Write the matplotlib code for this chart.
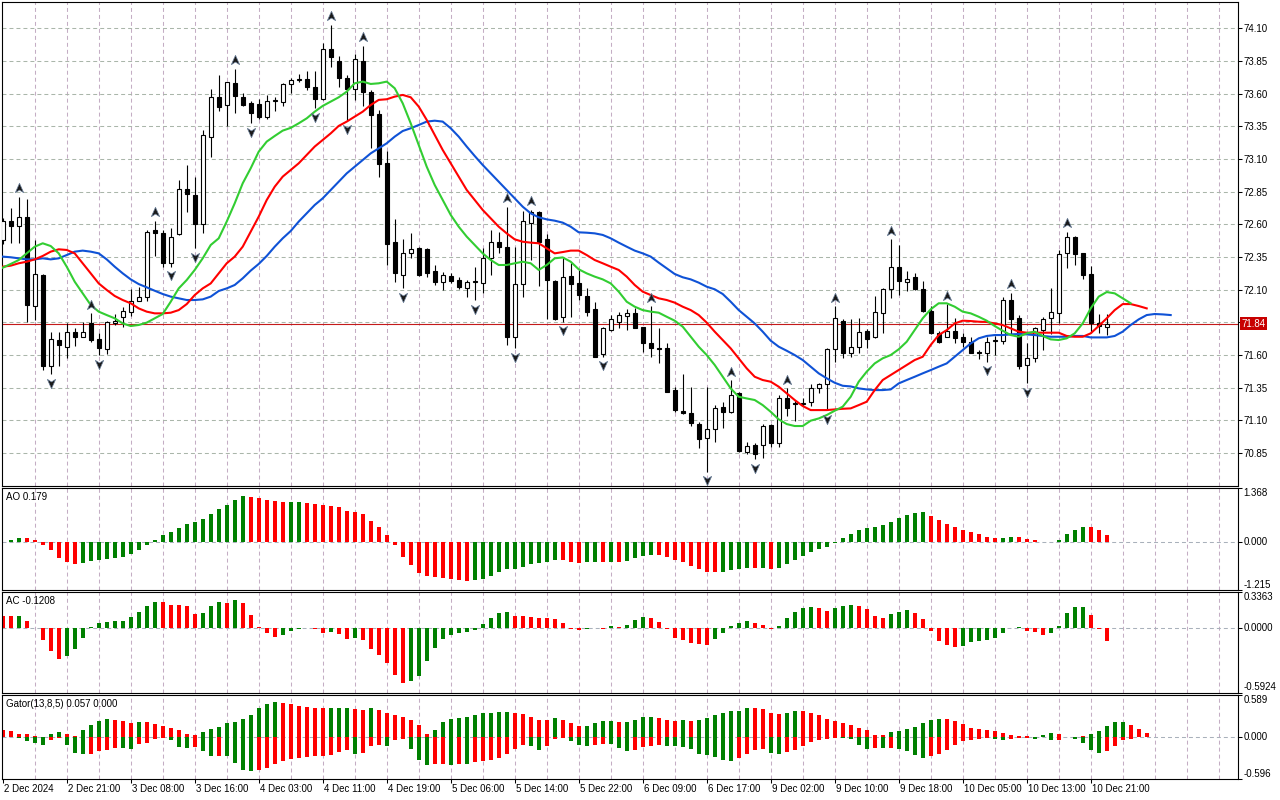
import matplotlib
matplotlib.use("Agg")
import matplotlib.pyplot as plt
import matplotlib.transforms as mtransforms
from matplotlib.path import Path
import numpy as np

plt.rcParams['font.family'] = ['Liberation Sans', 'DejaVu Sans']

# ---- hourly candles ----
opens = [
    72.480, 72.625, 72.590, 72.654, 71.975, 72.210, 71.516, 71.715, 71.659, 71.779,
    71.740, 71.842, 71.720, 71.643, 71.842, 71.888, 71.932, 72.016, 72.041, 72.557,
    72.531, 72.307, 72.524, 72.868, 72.824, 72.600, 73.271, 73.577, 73.511, 73.679,
    73.577, 73.526, 73.518, 73.419, 73.544, 73.539, 73.674, 73.708, 73.710, 73.648,
    73.557, 73.939, 73.850, 73.717, 73.633, 73.850, 73.615, 73.444, 73.067, 72.462,
    72.212, 72.378, 72.421, 72.409, 72.243, 72.161, 72.205, 72.174, 72.110, 72.158,
    72.149, 72.340, 72.462, 72.424, 71.740, 72.141, 72.608, 72.697, 72.485, 72.166,
    71.888, 72.205, 72.149, 72.052, 71.950, 71.605, 71.791, 71.855, 71.901, 71.919,
    71.812, 71.689, 71.652, 71.651, 71.332, 71.171, 71.154, 71.072, 70.962, 71.031,
    71.200, 71.166, 71.312, 70.860, 70.911, 70.911, 71.064, 70.929, 71.268, 71.235,
    71.228, 71.243, 71.345, 71.378, 71.643, 71.863, 71.613, 71.659, 71.786, 71.735,
    71.919, 72.103, 72.276, 72.161, 72.194, 72.103, 71.939, 71.771, 71.740, 71.786,
    71.735, 71.702, 71.622, 71.613, 71.707, 71.710, 72.021, 71.881, 71.523, 71.574,
    71.791, 71.881, 71.919, 72.378, 72.506, 72.378, 72.220, 71.848, 71.817]
highs = [
    72.650, 72.722, 72.812, 72.791, 72.480, 72.220, 71.773, 71.773, 71.842, 71.804,
    71.855, 71.919, 71.766, 71.860, 71.911, 71.970, 72.103, 72.123, 72.557, 72.626,
    72.557, 72.572, 72.939, 73.054, 72.965, 73.322, 73.633, 73.743, 73.692, 73.789,
    73.603, 73.546, 73.557, 73.590, 73.577, 73.684, 73.717, 73.751, 73.773, 73.773,
    73.985, 74.126, 73.888, 73.743, 73.904, 73.965, 73.628, 73.475, 73.161, 72.641,
    72.485, 72.536, 72.429, 72.416, 72.289, 72.238, 72.230, 72.194, 72.174, 72.276,
    72.416, 72.557, 72.544, 72.735, 72.429, 72.705, 72.710, 72.705, 72.524, 72.174,
    72.340, 72.302, 72.251, 72.110, 72.008, 71.817, 71.906, 71.932, 71.950, 71.957,
    71.817, 71.975, 71.804, 71.689, 71.358, 71.455, 71.353, 71.090, 71.358, 71.217,
    71.243, 71.409, 71.319, 70.937, 70.924, 71.072, 71.072, 71.294, 71.345, 71.256,
    71.268, 71.378, 71.388, 71.651, 71.975, 71.873, 71.873, 71.881, 71.796, 72.052,
    72.110, 72.485, 72.442, 72.245, 72.230, 72.169, 71.975, 71.786, 71.990, 71.881,
    71.771, 71.740, 71.638, 71.740, 71.746, 72.047, 72.077, 71.906, 71.689, 71.817,
    71.894, 72.110, 72.404, 72.544, 72.511, 72.383, 72.281, 71.914, 71.914]
lows = [
    72.450, 72.455, 72.455, 71.855, 71.868, 71.485, 71.455, 71.518, 71.580, 71.669,
    71.735, 71.702, 71.600, 71.608, 71.830, 71.817, 71.899, 72.013, 72.016, 72.358,
    72.276, 72.276, 72.518, 72.697, 72.416, 72.531, 73.118, 73.470, 73.353, 73.455,
    73.506, 73.373, 73.406, 73.404, 73.470, 73.506, 73.608, 73.692, 73.628, 73.488,
    73.552, 73.807, 73.648, 73.398, 73.552, 73.506, 73.187, 72.965, 72.289, 72.161,
    72.110, 72.340, 72.205, 72.200, 72.136, 72.097, 72.149, 72.103, 72.047, 72.021,
    72.072, 72.212, 72.378, 71.677, 71.651, 72.047, 72.327, 72.128, 71.873, 71.868,
    71.855, 71.888, 72.021, 71.899, 71.582, 71.587, 71.786, 71.804, 71.791, 71.804,
    71.626, 71.587, 71.541, 71.314, 71.166, 71.148, 71.057, 70.886, 70.707, 70.937,
    71.039, 71.154, 70.860, 70.842, 70.802, 70.809, 70.898, 70.898, 71.133, 71.097,
    71.210, 71.210, 71.307, 71.179, 71.549, 71.575, 71.582, 71.618, 71.651, 71.728,
    71.771, 72.034, 72.059, 72.092, 72.097, 71.932, 71.761, 71.694, 71.735, 71.689,
    71.664, 71.613, 71.567, 71.549, 71.600, 71.684, 71.753, 71.490, 71.383, 71.549,
    71.638, 71.761, 71.848, 72.263, 72.289, 72.179, 71.771, 71.771, 71.753]
closes = [
    72.626, 72.590, 72.659, 71.983, 72.217, 71.518, 71.720, 71.674, 71.779, 71.735,
    71.779, 71.715, 71.651, 71.855, 71.858, 71.937, 72.016, 72.041, 72.539, 72.531,
    72.307, 72.506, 72.868, 72.832, 72.603, 73.284, 73.577, 73.501, 73.687, 73.585,
    73.513, 73.449, 73.419, 73.544, 73.546, 73.671, 73.705, 73.712, 73.648, 73.557,
    73.939, 73.878, 73.717, 73.633, 73.863, 73.615, 73.437, 73.062, 72.450, 72.230,
    72.378, 72.409, 72.212, 72.230, 72.161, 72.210, 72.169, 72.118, 72.161, 72.163,
    72.340, 72.462, 72.429, 71.740, 72.141, 72.626, 72.692, 72.467, 72.174, 71.873,
    72.194, 72.143, 72.059, 71.932, 71.587, 71.804, 71.873, 71.906, 71.919, 71.809,
    71.689, 71.651, 71.648, 71.319, 71.179, 71.154, 71.077, 70.955, 71.031, 71.192,
    71.166, 71.294, 70.868, 70.904, 70.840, 71.057, 70.924, 71.268, 71.192, 71.225,
    71.232, 71.345, 71.378, 71.643, 71.881, 71.618, 71.659, 71.779, 71.720, 71.932,
    72.103, 72.271, 72.169, 72.179, 72.103, 71.939, 71.771, 71.702, 71.786, 71.728,
    71.702, 71.618, 71.617, 71.702, 71.712, 72.021, 71.873, 71.516, 71.574, 71.804,
    71.873, 71.932, 72.373, 72.506, 72.373, 72.212, 71.848, 71.822, 71.840]

# ---- Alligator lines (jaw shifted 8 bars, teeth 5, lips 3) ----
jaw = [
    72.353, 72.348, 72.340, 72.332, 72.332, 72.340, 72.332, 72.340, 72.365, 72.391,
    72.399, 72.391, 72.378, 72.332, 72.276, 72.225, 72.179, 72.143, 72.118, 72.092,
    72.067, 72.047, 72.034, 72.021, 72.021, 72.026, 72.047, 72.090, 72.110, 72.136,
    72.187, 72.246, 72.297, 72.358, 72.429, 72.493, 72.549, 72.621, 72.684, 72.748,
    72.799, 72.863, 72.927, 72.990, 73.041, 73.092, 73.143, 73.182, 73.220, 73.271,
    73.314, 73.335, 73.360, 73.386, 73.393, 73.386, 73.335, 73.271, 73.195, 73.123,
    73.054, 72.990, 72.927, 72.863, 72.799, 72.735, 72.684, 72.654, 72.638, 72.628,
    72.613, 72.582, 72.539, 72.536, 72.531, 72.519, 72.493, 72.460, 72.429, 72.399,
    72.378, 72.353, 72.307, 72.263, 72.220, 72.195, 72.179, 72.154, 72.123, 72.103,
    72.067, 72.008, 71.944, 71.893, 71.842, 71.779, 71.710, 71.664, 71.633, 71.600,
    71.562, 71.511, 71.460, 71.422, 71.388, 71.365, 71.360, 71.345, 71.337, 71.332,
    71.332, 71.337, 71.383, 71.409, 71.434, 71.460, 71.485, 71.511, 71.536, 71.587,
    71.638, 71.689, 71.728, 71.746, 71.753, 71.753, 71.758, 71.761, 71.758, 71.753,
    71.746, 71.740, 71.740, 71.740, 71.746, 71.746, 71.735, 71.735, 71.735, 71.746,
    71.779, 71.830, 71.873, 71.906, 71.914, 71.911, 71.906]
teeth = [
    72.276, 72.284, 72.302, 72.314, 72.332, 72.358, 72.391, 72.409, 72.404, 72.378,
    72.302, 72.225, 72.148, 72.098, 72.052, 72.021, 71.996, 71.957, 71.932, 71.919,
    71.919, 71.924, 71.944, 71.990, 72.059, 72.110, 72.148, 72.225, 72.302, 72.353,
    72.429, 72.544, 72.659, 72.786, 72.888, 72.965, 73.016, 73.067, 73.131, 73.195,
    73.246, 73.296, 73.353, 73.386, 73.424, 73.462, 73.513, 73.552, 73.557, 73.577,
    73.590, 73.572, 73.501, 73.399, 73.284, 73.169, 73.067, 72.965, 72.863, 72.786,
    72.710, 72.646, 72.582, 72.531, 72.485, 72.467, 72.460, 72.455, 72.416, 72.378,
    72.388, 72.399, 72.399, 72.365, 72.327, 72.302, 72.276, 72.251, 72.200, 72.136,
    72.085, 72.059, 72.034, 72.021, 72.001, 71.970, 71.944, 71.906, 71.848, 71.779,
    71.715, 71.651, 71.575, 71.498, 71.434, 71.409, 71.396, 71.358, 71.307, 71.256,
    71.210, 71.179, 71.179, 71.179, 71.184, 71.189, 71.192, 71.217, 71.243, 71.332,
    71.409, 71.447, 71.485, 71.524, 71.562, 71.587, 71.677, 71.753, 71.791, 71.842,
    71.863, 71.860, 71.855, 71.853, 71.842, 71.830, 71.804, 71.779, 71.771, 71.771,
    71.771, 71.771, 71.771, 71.746, 71.740, 71.740, 71.766, 71.822, 71.881, 71.944,
    71.990, 71.990, 71.975, 71.957]
lips = [
    72.268, 72.297, 72.327, 72.378, 72.429, 72.455, 72.434, 72.378, 72.276, 72.161,
    72.072, 71.983, 71.932, 71.906, 71.881, 71.842, 71.822, 71.830, 71.848, 71.881,
    71.914, 72.008, 72.110, 72.174, 72.251, 72.340, 72.442, 72.493, 72.621, 72.761,
    72.914, 73.029, 73.156, 73.233, 73.276, 73.317, 73.338, 73.373, 73.411, 73.462,
    73.506, 73.539, 73.572, 73.615, 73.679, 73.692, 73.674, 73.679, 73.692, 73.641,
    73.526, 73.373, 73.207, 73.041, 72.901, 72.786, 72.672, 72.582, 72.506, 72.442,
    72.378, 72.327, 72.289, 72.289, 72.302, 72.314, 72.302, 72.251, 72.289, 72.340,
    72.347, 72.314, 72.256, 72.225, 72.200, 72.179, 72.148, 72.085, 72.008, 71.970,
    71.944, 71.932, 71.924, 71.893, 71.863, 71.817, 71.740, 71.664, 71.600, 71.524,
    71.434, 71.345, 71.281, 71.268, 71.256, 71.217, 71.166, 71.108, 71.072, 71.057,
    71.057, 71.098, 71.115, 71.141, 71.174, 71.205, 71.281, 71.396, 71.473, 71.536,
    71.575, 71.600, 71.644, 71.702, 71.791, 71.881, 71.950, 71.996, 71.996, 71.970,
    71.932, 71.919, 71.893, 71.863, 71.822, 71.786, 71.753, 71.740, 71.766, 71.779,
    71.746, 71.720, 71.715, 71.728, 71.766, 71.842, 71.957, 72.047, 72.082, 72.072,
    72.034, 71.996]

fractal_up = [2, 11, 19, 29, 41, 45, 63, 66, 81, 91, 98, 104, 111, 118, 126, 133]
fractal_down = [6, 12, 21, 24, 31, 39, 43, 50, 59, 64, 70, 75, 88, 94, 103, 123, 128]

# ---- oscillators ----
ao = [
    np.nan, 0.047, 0.089, 0.085, 0.047, -0.072, -0.217, -0.404, -0.515, -0.557,
    -0.532, -0.498, -0.464, -0.447, -0.404, -0.379, -0.302, -0.200, -0.072, 0.047,
    0.174, 0.251, 0.353, 0.464, 0.506, 0.574, 0.719, 0.838, 0.940, 1.068,
    1.162, 1.145, 1.102, 1.060, 1.026, 1.000, 1.003, 1.006, 0.983, 0.966,
    0.940, 0.915, 0.889, 0.787, 0.762, 0.702, 0.540, 0.379, 0.174, -0.094,
    -0.400, -0.604, -0.783, -0.860, -0.885, -0.911, -0.953, -0.962, -0.987, -0.979,
    -0.936, -0.860, -0.757, -0.706, -0.681, -0.630, -0.557, -0.532, -0.515, -0.455,
    -0.464, -0.506, -0.532, -0.515, -0.510, -0.520, -0.515, -0.520, -0.481, -0.404,
    -0.362, -0.336, -0.340, -0.387, -0.464, -0.515, -0.617, -0.685, -0.770, -0.775,
    -0.762, -0.728, -0.685, -0.660, -0.668, -0.660, -0.694, -0.660, -0.566, -0.455,
    -0.362, -0.251, -0.183, -0.132, -0.038, 0.098, 0.191, 0.302, 0.345, 0.379,
    0.430, 0.515, 0.617, 0.685, 0.736, 0.745, 0.660, 0.566, 0.455, 0.379,
    0.302, 0.251, 0.200, 0.123, 0.098, 0.106, 0.123, 0.119, 0.072, 0.047,
    0.004, -0.013, 0.047, 0.200, 0.311, 0.379, 0.370, 0.311, 0.179]
ac = [
    0.118, 0.115, 0.118, 0.068, 0.003, -0.108, -0.207, -0.282, -0.254, -0.192,
    -0.087, 0.009, 0.050, 0.062, 0.068, 0.071, 0.105, 0.155, 0.207, 0.245,
    0.243, 0.220, 0.217, 0.211, 0.136, 0.142, 0.207, 0.245, 0.235, 0.263,
    0.238, 0.124, 0.009, -0.040, -0.077, -0.059, -0.022, -0.003, 0.004, -0.009,
    -0.040, -0.031, -0.050, -0.096, -0.087, -0.105, -0.189, -0.245, -0.319, -0.433,
    -0.505, -0.486, -0.440, -0.300, -0.180, -0.096, -0.059, -0.040, -0.031, -0.012,
    0.040, 0.096, 0.142, 0.152, 0.115, 0.113, 0.105, 0.096, 0.095, 0.087,
    0.053, -0.006, -0.015, -0.009, 0.002, -0.002, 0.022, 0.012, 0.034, 0.077,
    0.105, 0.096, 0.062, -0.003, -0.090, -0.108, -0.133, -0.142, -0.155, -0.099,
    -0.040, 0.022, 0.053, 0.068, 0.053, 0.031, -0.006, 0.022, 0.096, 0.152,
    0.186, 0.198, 0.189, 0.161, 0.189, 0.207, 0.217, 0.207, 0.180, 0.115,
    0.096, 0.133, 0.152, 0.170, 0.142, 0.087, -0.022, -0.118, -0.155, -0.173,
    -0.164, -0.124, -0.115, -0.105, -0.090, -0.040, 0.006, 0.009, -0.025, -0.034,
    -0.059, -0.040, 0.022, 0.142, 0.198, 0.199, 0.124, -0.003, -0.121]
gator_up = [
    0.103, 0.089, 0.050, 0.040, 0.015, 0.005, 0.047, 0.075, 0.047, 0.019,
    0.103, 0.174, 0.230, 0.249, 0.245, 0.221, 0.202, 0.212, 0.208, 0.188,
    0.160, 0.132, 0.099, 0.042, 0.033, 0.075, 0.108, 0.146, 0.202, 0.216,
    0.249, 0.315, 0.414, 0.466, 0.499, 0.480, 0.466, 0.437, 0.423, 0.414,
    0.413, 0.414, 0.415, 0.416, 0.390, 0.388, 0.405, 0.386, 0.343, 0.315,
    0.287, 0.245, 0.174, 0.047, 0.103, 0.216, 0.259, 0.273, 0.287, 0.315,
    0.343, 0.345, 0.357, 0.358, 0.343, 0.329, 0.287, 0.245, 0.244, 0.273,
    0.245, 0.202, 0.160, 0.161, 0.202, 0.230, 0.231, 0.216, 0.217, 0.245,
    0.287, 0.288, 0.273, 0.245, 0.230, 0.245, 0.230, 0.245, 0.273, 0.315,
    0.343, 0.372, 0.373, 0.414, 0.413, 0.400, 0.343, 0.329, 0.343, 0.372,
    0.371, 0.343, 0.315, 0.259, 0.230, 0.202, 0.174, 0.132, 0.103, 0.033,
    0.032, 0.075, 0.089, 0.118, 0.146, 0.202, 0.245, 0.259, 0.258, 0.230,
    0.188, 0.132, 0.118, 0.103, 0.089, 0.061, 0.033, 0.019, 0.014, 0.003,
    0.033, 0.061, 0.047, 0.005, 0.004, 0.014, 0.042, 0.085, 0.155, 0.210,
    0.212, 0.165, 0.108, 0.057]
gator_down = [
    -0.004, -0.004, -0.019, -0.061, -0.080, -0.108, -0.047, -0.019, -0.118, -0.221,
    -0.245, -0.235, -0.202, -0.179, -0.150, -0.160, -0.165, -0.103, -0.080, -0.033,
    -0.010, -0.042, -0.136, -0.155, -0.146, -0.198, -0.273, -0.263, -0.268, -0.372,
    -0.466, -0.485, -0.470, -0.433, -0.386, -0.343, -0.310, -0.292, -0.278, -0.273,
    -0.263, -0.249, -0.216, -0.188, -0.245, -0.231, -0.132, -0.118, -0.132, -0.047,
    -0.033, -0.174, -0.329, -0.400, -0.386, -0.384, -0.388, -0.385, -0.387, -0.357,
    -0.343, -0.329, -0.301, -0.245, -0.174, -0.118, -0.132, -0.188, -0.132, -0.033,
    -0.014, -0.061, -0.118, -0.132, -0.118, -0.103, -0.104, -0.160, -0.202, -0.188,
    -0.146, -0.132, -0.118, -0.132, -0.133, -0.134, -0.174, -0.245, -0.259, -0.287,
    -0.329, -0.335, -0.301, -0.245, -0.188, -0.174, -0.230, -0.245, -0.216, -0.188,
    -0.132, -0.075, -0.047, -0.033, -0.009, -0.010, -0.033, -0.118, -0.174, -0.160,
    -0.161, -0.160, -0.174, -0.202, -0.259, -0.301, -0.273, -0.245, -0.188, -0.118,
    -0.061, -0.047, -0.033, -0.010, -0.033, -0.047, -0.033, -0.010, -0.008, -0.023,
    -0.002, -0.047, -0.045, -0.005, -0.023, -0.085, -0.180, -0.220, -0.190, -0.122,
    -0.042, -0.024, 0.0, 0.0]
gator_up_colors = ("rrrrrrggrr" "ggggrrrgrr" "rrrrrggggg" "gggggrrrrr" "rgggrrgrrr"
                   "rrrrgggggg" "ggggrrrrrg" "rrrggggrgg" "ggrrrgrggg" "ggggrrrrgg"
                   "rrrrrrrrrr" "rgggggggrr" "rrrrrrrrrr" "ggrrrrgggg" "grrr")
gator_down_colors = ("rrggggrrgg" "grrrrggrrr" "rgggrggrgg" "ggrrrrrrrr" "rrrrgrrrgr"
                     "rgggrrgrgr" "rrrrrrggrr" "rgggrrgggr" "rrrggggggg" "ggrrrrggrr"
                     "rrrrrggggr" "grggggrrrr" "rrrrggrrrg" "rgrrggggrr" "rrrr")

price_ticks = [74.10, 73.85, 73.60, 73.35, 73.10, 72.85, 72.60, 72.35, 72.10,
               71.85, 71.60, 71.35, 71.10, 70.85]
last_price = 71.84
time_labels = ["2 Dec 2024", "2 Dec 21:00", "3 Dec 08:00", "3 Dec 16:00", "4 Dec 03:00",
               "4 Dec 11:00", "4 Dec 19:00", "5 Dec 06:00", "5 Dec 14:00", "5 Dec 22:00",
               "6 Dec 09:00", "6 Dec 17:00", "9 Dec 02:00", "9 Dec 10:00", "9 Dec 18:00",
               "10 Dec 05:00", "10 Dec 13:00", "10 Dec 21:00"]

GREEN = '#008000'
RED = '#ff0000'
FS = 7
W, H = 1280, 800


def box(l, t, r, b):
    return [l / W, 1 - b / H, (r - l) / W, (b - t) / H]


def trend_colors(values, first):
    out = []
    prev = None
    for v in values:
        if prev is None or np.isnan(prev):
            out.append(first)
        else:
            out.append(GREEN if v > prev else RED)
        prev = v
    return out


fig = plt.figure(figsize=(12.8, 8), dpi=100)
fig.patch.set_facecolor('white')

ax = fig.add_axes(box(2, 2, 1237.5, 485.5))
ax_ao = fig.add_axes(box(2, 488, 1237.5, 589.5))
ax_ac = fig.add_axes(box(2, 592, 1237.5, 692.5))
ax_gt = fig.add_axes(box(2, 695.3, 1237.5, 779.3))
axes = [ax, ax_ao, ax_ac, ax_gt]

vgrid = dict(color='#c4adc4', lw=0.75, linestyle=(0, (3.8, 2.9)), zorder=0)
hgrid = dict(color='#aab6aa', lw=0.75, linestyle=(0, (3.8, 2.9)), zorder=0)

for a in axes:
    a.set_xlim(-0.09, 154.35)
    for s in a.spines.values():
        s.set_linewidth(0.8)
        s.set_color('black')
    for k in range(4, 155, 4):
        a.axvline(k, **vgrid)
    a.tick_params(axis='x', which='both', bottom=False, labelbottom=False)
    a.yaxis.tick_right()
    a.tick_params(axis='y', length=3, width=0.75, pad=1.5, labelsize=FS, colors='black')

# ---- main price panel ----
ax.set_ylim(70.602, 74.301)
for p in price_ticks:
    ax.axhline(p, **hgrid)
ax.set_yticks(price_ticks)
ax.set_yticklabels(['' if abs(p - 71.85) < 1e-6 else '%.2f' % p for p in price_ticks])

x = np.arange(len(opens))
o = np.array(opens)
c = np.array(closes)
ax.vlines(x, lows, highs, color='black', lw=0.8, zorder=3)
bottoms = np.minimum(o, c)
heights = np.maximum(np.abs(c - o), 0.006)
faces = ['white' if cc >= oo else 'black' for oo, cc in zip(o, c)]
ax.bar(x, heights, bottom=bottoms, width=0.5, color=faces, edgecolor='black',
       linewidth=0.8, zorder=4)

ax.axhline(last_price, color='#c41a1a', lw=0.8, zorder=2.5)

ax.plot(np.arange(len(jaw)), jaw, color='#0f52d6', lw=1.5, zorder=5)
ax.plot(np.arange(len(teeth)), teeth, color='#ff0000', lw=1.5, zorder=5)
ax.plot(np.arange(len(lips)), lips, color='#32cd32', lw=1.5, zorder=5)

up_marker = Path([(0, 1), (0.8, -0.8), (0, -0.3), (-0.8, -0.8), (0, 1)],
                 [Path.MOVETO, Path.LINETO, Path.LINETO, Path.LINETO, Path.CLOSEPOLY])
down_marker = Path([(0, -1), (0.8, 0.8), (0, 0.3), (-0.8, 0.8), (0, -1)],
                   [Path.MOVETO, Path.LINETO, Path.LINETO, Path.LINETO, Path.CLOSEPOLY])
tr_up = mtransforms.offset_copy(ax.transData, fig=fig, x=0, y=8.5, units='dots')
tr_dn = mtransforms.offset_copy(ax.transData, fig=fig, x=0, y=-8.5, units='dots')
ax.plot(fractal_up, [highs[k] for k in fractal_up], linestyle='none', marker=up_marker,
        markersize=7.5, markerfacecolor='#1a1a1a', markeredgecolor='#6a7f9a',
        markeredgewidth=0.5, transform=tr_up, zorder=6)
ax.plot(fractal_down, [lows[k] for k in fractal_down], linestyle='none', marker=down_marker,
        markersize=7.5, markerfacecolor='#1a1a1a', markeredgecolor='#6a7f9a',
        markeredgewidth=0.5, transform=tr_dn, zorder=6)

price_tr = mtransforms.offset_copy(
    mtransforms.blended_transform_factory(ax.transAxes, ax.transData),
    fig=fig, x=4, y=0, units='dots')
ax.text(1.0, last_price, '%.2f' % last_price, transform=price_tr, ha='left', va='center',
        color='white', fontsize=FS, clip_on=False,
        bbox=dict(boxstyle='square,pad=0.15', facecolor='#c80000', edgecolor='none'))

# ---- oscillator panels ----
panels = [
    (ax_ao, (-1.215, 1.368), ['-1.215', '0.000', '1.368'], 'AO 0.179'),
    (ax_ac, (-0.5924, 0.3363), ['-0.5924', '0.0000', '0.3363'], 'AC -0.1208'),
    (ax_gt, (-0.596, 0.589), ['-0.596', '0.000', '0.589'], 'Gator(13,8,5) 0.057 0.000'),
]
for a, (lo, hi), labels, title in panels:
    a.set_ylim(lo, hi)
    a.axhline(0, color='#a9b1bb', lw=0.75, linestyle=(0, (3.8, 2.9)), zorder=0.5)
    a.set_yticks([lo, 0, hi])
    a.set_yticklabels(labels)
    for tick, va in zip(a.yaxis.get_major_ticks(), ['bottom', 'center', 'top']):
        tick.label2.set_va(va)
    title_tr = mtransforms.offset_copy(a.transAxes, fig=fig, x=4, y=-9, units='dots')
    a.text(0, 1, title, transform=title_tr, ha='left', va='center', fontsize=FS)

ax_ao.bar(np.arange(len(ao)), ao, width=0.5, color=trend_colors(ao, GREEN), zorder=2)
ax_ac.bar(np.arange(len(ac)), ac, width=0.5, color=trend_colors(ac, RED), zorder=2)
cmap = {'g': GREEN, 'r': RED}
ax_gt.bar(np.arange(len(gator_up)), gator_up, width=0.5,
          color=[cmap[ch] for ch in gator_up_colors], zorder=2)
ax_gt.bar(np.arange(len(gator_down)), gator_down, width=0.5,
          color=[cmap[ch] for ch in gator_down_colors], zorder=2)

# ---- time axis ----
ax_gt.set_xticks(range(0, 8 * len(time_labels), 8))
ax_gt.tick_params(axis='x', bottom=True, length=3, width=0.75, direction='out',
                  labelbottom=False)
time_tr = mtransforms.offset_copy(
    mtransforms.blended_transform_factory(ax_gt.transData, ax_gt.transAxes),
    fig=fig, x=1, y=-9.5, units='dots')
for i, lbl in enumerate(time_labels):
    ax_gt.text(8 * i, 0, lbl, transform=time_tr, ha='left', va='center',
               fontsize=FS, clip_on=False)

fig.savefig('out.png', dpi=100, facecolor='white')
